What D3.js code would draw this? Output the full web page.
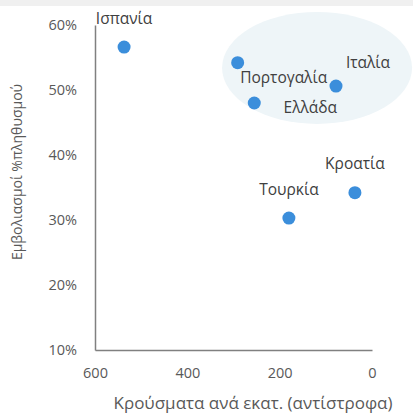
<!DOCTYPE html>
<html>
<head>
<meta charset="utf-8">
<script src="https://cdn.jsdelivr.net/npm/d3@7"></script>
<style>
  body { margin: 0; background: #fff; }
  text { font-family: "Open Sans", "DejaVu Sans", sans-serif; }
</style>
</head>
<body>
<div id="chart"></div>
<script>
// countries and values
var countries = ["Ισπανία", "Πορτογαλία", "Ιταλία", "Ελλάδα", "Τουρκία", "Κροατία"];
var casesPerMillion = [537, 291, 78, 255, 180, 37];
var vaccinatedPct = [56.6, 54.2, 50.6, 48.0, 30.3, 34.2];
var xTicks = [600, 400, 200, 0];
var yTicks = [10, 20, 30, 40, 50, 60];

var width = 413, height = 416;
var margin = { top: 25, right: 41, bottom: 66, left: 95 };

var svg = d3.select("#chart").append("svg")
    .attr("width", width)
    .attr("height", height);

// light band along the top
svg.append("rect")
    .attr("x", 0).attr("y", 0)
    .attr("width", width).attr("height", 6)
    .attr("fill", "#f0f0f0");

var x = d3.scaleLinear()
    .domain([600, 0])
    .range([margin.left, width - margin.right]);

var y = d3.scaleLinear()
    .domain([10, 60])
    .range([height - margin.bottom, margin.top]);

// highlight ellipse round the Italy / Portugal / Greece group
svg.append("ellipse")
    .attr("cx", x(119))
    .attr("cy", y(53.4))
    .attr("rx", 95)
    .attr("ry", 56)
    .attr("fill", "#eef5f8");

var xAxis = svg.append("g")
    .attr("transform", "translate(0," + y(10) + ")")
    .call(d3.axisBottom(x).tickValues(xTicks).tickSize(0).tickPadding(18));

var yAxis = svg.append("g")
    .attr("transform", "translate(" + x(600) + ",0)")
    .call(d3.axisLeft(y).tickValues(yTicks).tickSize(0).tickPadding(18)
        .tickFormat(function (d) { return d + "%"; }));

[xAxis, yAxis].forEach(function (g) {
    g.select(".domain").attr("stroke", "#808080").attr("stroke-width", 1.5);
    g.selectAll("text")
        .attr("fill", "#595959")
        .style("font-size", "14.5px");
});

var data = countries.map(function (c, i) {
    return { name: c, cases: casesPerMillion[i], vacc: vaccinatedPct[i] };
});

svg.selectAll("circle.pt")
    .data(data)
    .enter()
    .append("circle")
    .attr("class", "pt")
    .attr("cx", function (d) { return x(d.cases); })
    .attr("cy", function (d) { return y(d.vacc); })
    .attr("r", 6.5)
    .attr("fill", "#3b8edb");

// label offsets relative to each point
var labelDx = [0, 46, 32, 56, 0, 0];
var labelDy = [-29, 15, -24, 5, -28, -29];

svg.selectAll("text.lbl")
    .data(data)
    .enter()
    .append("text")
    .attr("class", "lbl")
    .attr("x", function (d, i) { return x(d.cases) + labelDx[i]; })
    .attr("y", function (d, i) { return y(d.vacc) + labelDy[i]; })
    .attr("dy", "0.35em")
    .attr("text-anchor", "middle")
    .attr("fill", "#404040")
    .style("font-size", "15.5px")
    .text(function (d) { return d.name; });

svg.append("text")
    .attr("x", 253)
    .attr("y", 403)
    .attr("dy", "0.35em")
    .attr("text-anchor", "middle")
    .attr("fill", "#595959")
    .style("font-size", "17px")
    .text("Κρούσματα ανά εκατ. (αντίστροφα)");

svg.append("text")
    .attr("transform", "translate(17,172) rotate(-90)")
    .attr("dy", "0.35em")
    .attr("text-anchor", "middle")
    .attr("fill", "#595959")
    .style("font-size", "14px")
    .text("Εμβολιασμοί %πληθυσμού");
</script>
</body>
</html>
